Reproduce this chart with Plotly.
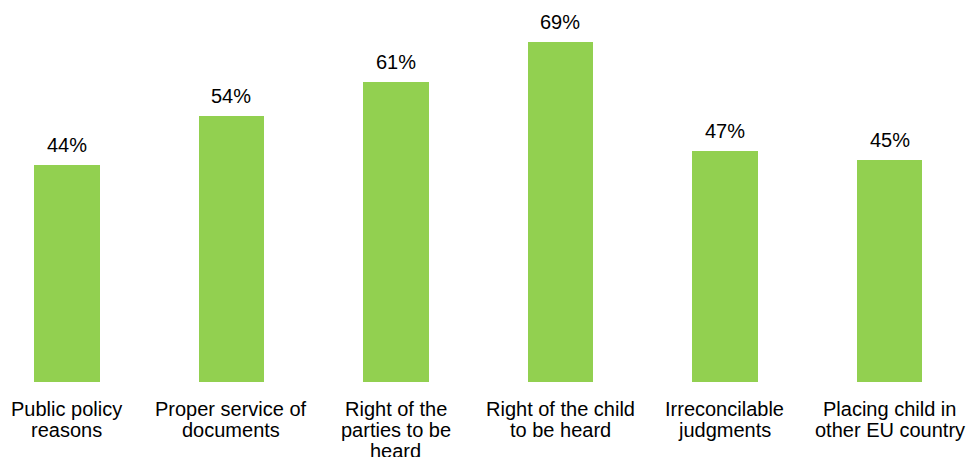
import plotly.graph_objects as go

# Reasons cited, share of respondents (%)
categories = [
    "Public policy<br>reasons",
    "Proper service of<br>documents",
    "Right of the<br>parties to be<br>heard",
    "Right of the child<br>to be heard",
    "Irreconcilable<br>judgments",
    "Placing child in<br>other EU country",
]
values = [44, 54, 61, 69, 47, 45]

BAR_COLOR = "#92D050"
FONT = "Liberation Sans, Arial, sans-serif"
FONT_SIZE = 20
LINE_GAP = 21

x_idx = list(range(len(categories)))

fig = go.Figure(
    go.Bar(
        x=x_idx,
        y=values,
        width=0.4,
        marker=dict(color=BAR_COLOR, line=dict(width=0)),
        hoverinfo="skip",
    )
)

annotations = []
# value labels above each bar
for i, v in enumerate(values):
    annotations.append(dict(
        x=i, y=v, xref="x", yref="y",
        text=f"{v}%", showarrow=False,
        xanchor="center", yanchor="bottom", yshift=7,
        font=dict(family=FONT, size=FONT_SIZE, color="#000000"),
    ))
# category labels, one annotation per line for tighter leading
for i, cat in enumerate(categories):
    for j, line in enumerate(cat.split("<br>")):
        annotations.append(dict(
            x=i, y=0, xref="x", yref="y",
            text=line, showarrow=False,
            xanchor="center", yanchor="top", yshift=-(14 + LINE_GAP * j),
            font=dict(family=FONT, size=FONT_SIZE, color="#000000"),
        ))

fig.update_layout(
    width=966, height=457,
    margin=dict(l=0, r=0, t=0, b=75),
    paper_bgcolor="white", plot_bgcolor="white",
    showlegend=False,
    bargap=0,
    xaxis=dict(range=[-0.407, 5.465], showticklabels=False, showgrid=False,
               zeroline=False, showline=False, ticks=""),
    yaxis=dict(range=[0, 77.6], visible=False, showgrid=False, zeroline=False),
    annotations=annotations,
    font=dict(family=FONT, size=FONT_SIZE, color="#000000"),
)

fig.write_html("out.html")
